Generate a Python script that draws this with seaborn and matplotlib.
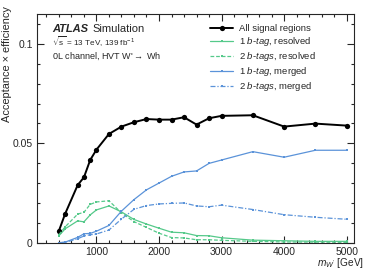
import numpy as np
import pandas as pd
import matplotlib
matplotlib.use("Agg")
import matplotlib.pyplot as plt
import seaborn as sns
from matplotlib.ticker import MultipleLocator

mass = [400, 500, 700, 800, 900, 1000, 1200, 1400, 1600, 1800, 2000, 2200,
        2400, 2600, 2800, 3000, 3500, 4000, 4500, 5000]
all_sr = [0.0060, 0.0146, 0.0290, 0.0329, 0.0416, 0.0468, 0.0547, 0.0584, 0.0606, 0.0622,
          0.0619, 0.0619, 0.0631, 0.0594, 0.0626, 0.0638, 0.0641, 0.0584, 0.0599, 0.0589]
res_1b = [0.0035, 0.0070, 0.0110, 0.0105, 0.0140, 0.0165, 0.0185, 0.0155, 0.0117, 0.0094,
          0.0073, 0.0053, 0.0050, 0.0036, 0.0035, 0.0025, 0.0013, 0.0010, 0.0007, 0.0007]
res_2b = [0.0040, 0.0080, 0.0144, 0.0153, 0.0193, 0.0205, 0.0211, 0.0150, 0.0106, 0.0077,
          0.0048, 0.0026, 0.0024, 0.0015, 0.0015, 0.0012, 0.0007, 0.0004, 0.0003, 0.0002]
mer_1b = [0.0000, 0.0003, 0.0027, 0.0045, 0.0047, 0.0058, 0.0087, 0.0159, 0.0217, 0.0266,
          0.0300, 0.0334, 0.0356, 0.0361, 0.0399, 0.0416, 0.0458, 0.0430, 0.0465, 0.0465]
mer_2b = [0.0000, 0.0002, 0.0020, 0.0034, 0.0040, 0.0044, 0.0064, 0.0119, 0.0168, 0.0187,
          0.0195, 0.0198, 0.0200, 0.0185, 0.0181, 0.0189, 0.0167, 0.0141, 0.0128, 0.0118]

labels = ["All signal regions", "$\\mathit{1\\ b}$-$\\mathit{tag}$, resolved",
          "$\\mathit{2\\ b}$-$\\mathit{tags}$, resolved", "$\\mathit{1\\ b}$-$\\mathit{tag}$, merged",
          "$\\mathit{2\\ b}$-$\\mathit{tags}$, merged"]

sns.set_style("ticks")
plt.rcParams['font.family'] = ['Liberation Sans', 'DejaVu Sans']
plt.rcParams['mathtext.fontset'] = 'custom'
plt.rcParams['mathtext.rm'] = 'Liberation Sans'
plt.rcParams['mathtext.it'] = 'Liberation Sans:italic'
plt.rcParams['mathtext.bf'] = 'Liberation Sans:bold'

fig = plt.figure(figsize=(3.74, 2.70), dpi=100)
ax = fig.add_axes([0.099, 0.101, 0.848, 0.847])

green = '#55c98a'
blue = '#5b93d9'
series = [
    (all_sr, 'black', '-', 'o', 1.4, 3.8),
    (res_1b, green, '-', 's', 0.9, 2.0),
    (res_2b, green, (0, (3, 1.5)), 's', 0.9, 2.0),
    (mer_1b, blue, '-', 's', 0.9, 2.0),
    (mer_2b, blue, (0, (4, 1.5, 1, 1.5)), 's', 0.9, 2.0),
]
for (vals, c, ls, mk, lw, ms), lab in zip(series, labels):
    df = pd.DataFrame({'mass': mass, 'eff': vals})
    sns.lineplot(data=df, x='mass', y='eff', ax=ax, color=c, linestyle=ls,
                 marker=mk, markersize=ms, linewidth=lw, markeredgewidth=0,
                 label=lab)

ax.set_xlim(50, 5120)
ax.set_ylim(0, 0.115)
ax.xaxis.set_major_locator(MultipleLocator(1000))
ax.xaxis.set_minor_locator(MultipleLocator(200))
ax.yaxis.set_minor_locator(MultipleLocator(0.01))
ax.set_yticks([0, 0.05, 0.1])
ax.set_yticklabels(['0', '0.05', '0.1'])
ax.tick_params(which='both', direction='in', top=True, right=True, labelsize=7.5)
ax.tick_params(axis='y', pad=3)
ax.tick_params(axis='x', pad=3)
ax.tick_params(which='major', length=5, width=0.8)
ax.tick_params(which='minor', length=2.5, width=0.8)
for s in ax.spines.values():
    s.set_linewidth(0.8)

ax.set_xlabel("$m_{W'}$ [GeV]", fontsize=7.3, ha='right')
ax.xaxis.set_label_coords(1.03, -0.058)
ax.set_ylabel("Acceptance × efficiency", fontsize=7.9, ha='right')
ax.yaxis.set_label_coords(-0.078, 1.035)

ax.text(0.047, 0.934, "ATLAS", transform=ax.transAxes, fontsize=8,
        fontweight='bold', fontstyle='italic', va='center')
ax.text(0.175, 0.934, "Simulation", transform=ax.transAxes, fontsize=8, va='center')
ax.text(0.047, 0.878, "$\\sqrt{\\mathrm{s}}$ = 13 TeV, 139 fb$^{-1}$", transform=ax.transAxes,
        fontsize=5.9, va='center')
ax.text(0.047, 0.816, "0L channel, HVT W'$\\rightarrow$ Wh", transform=ax.transAxes,
        fontsize=6.5, va='center')

leg = ax.legend(loc='upper left', bbox_to_anchor=(0.546, 0.955), frameon=False,
                fontsize=6.8, handlelength=2.45, labelspacing=0.2, handletextpad=0.64,
                borderaxespad=0, borderpad=0)

fig.savefig("out.png", dpi=100)
